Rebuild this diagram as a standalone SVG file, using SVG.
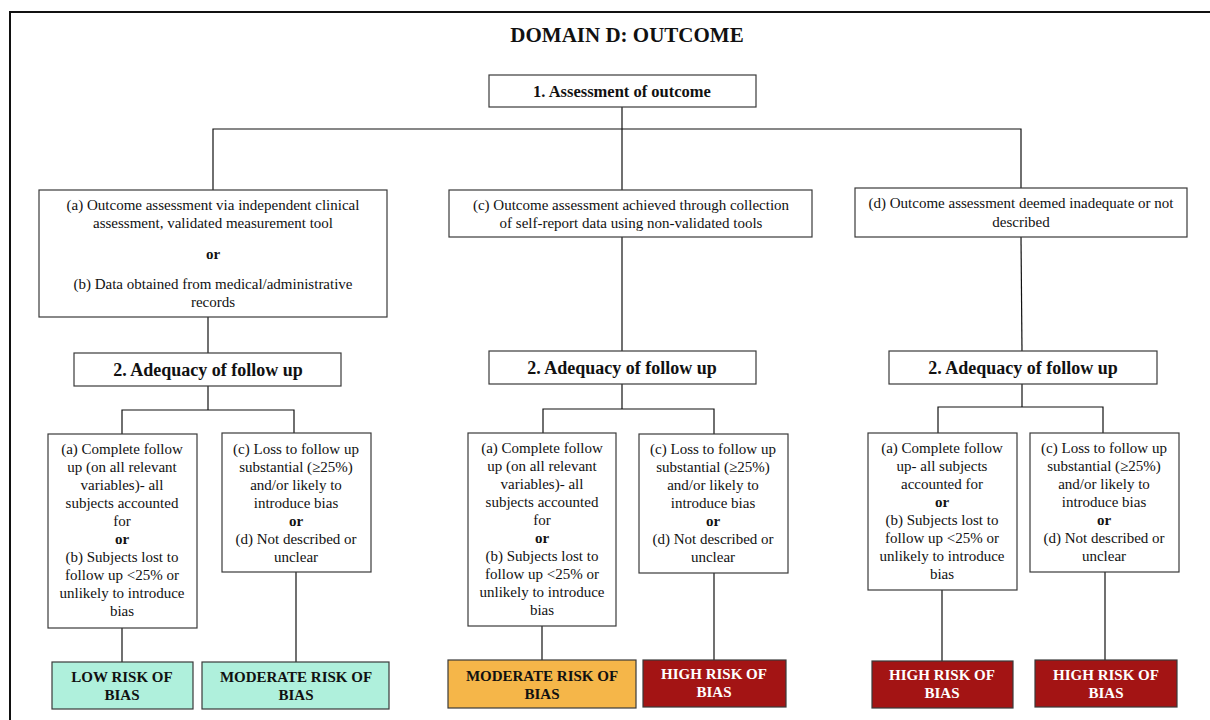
<svg xmlns="http://www.w3.org/2000/svg" width="1210" height="720" viewBox="0 0 1210 720">
<style>
.box{fill:#fff;stroke:#3a3a3a;stroke-width:1.2}
text{font-family:'Liberation Serif','DejaVu Serif',serif}
.t{font-size:15px;fill:#111;text-anchor:middle}
.b{font-weight:bold}
.h{font-size:18px;font-weight:bold;fill:#111;text-anchor:middle}
.r{font-size:15px;font-weight:bold;text-anchor:middle}
.low{fill:#aff0dc;stroke:#3a3a3a;stroke-width:1.2}
.mod{fill:#f5b649;stroke:#3a3a3a;stroke-width:1.2}
.high{fill:#a31414;stroke:#3a3a3a;stroke-width:1.2}
.c line, .c polyline{stroke:#111;stroke-width:1.2;fill:none}
</style>
<rect x="0" y="0" width="1210" height="720" fill="#fff"/>
<rect x="10" y="12" width="1220" height="730" fill="none" stroke="#111" stroke-width="2"/>
<text x="627" y="42" class="h" style="font-size:21px">DOMAIN D: OUTCOME</text>

<g class="c" id="connectors">
<line x1="622" y1="107" x2="622" y2="190"/>
<polyline points="213,190 213,129 1021,129 1021,188"/>
<line x1="208" y1="317" x2="208" y2="353"/>
<line x1="622" y1="237" x2="622" y2="351"/>
<line x1="1021" y1="237" x2="1022" y2="351"/>
<line x1="208" y1="386" x2="208" y2="410"/>
<polyline points="122,434 122,410 294,410 294,433"/>
<line x1="122" y1="628" x2="122" y2="662"/>
<line x1="296" y1="572" x2="296" y2="662"/>
<line x1="622" y1="384" x2="622" y2="409"/>
<polyline points="543,433 543,409 714,409 714,434"/>
<line x1="542" y1="626" x2="542" y2="660"/>
<line x1="714" y1="573" x2="714" y2="660"/>
<line x1="1022" y1="384" x2="1022" y2="407"/>
<polyline points="938,433 938,407 1103,407 1103,433"/>
<line x1="942" y1="590" x2="942" y2="661"/>
<line x1="1105" y1="572" x2="1105" y2="660"/>
</g>

<g id="n1"><rect class="box" x="489" y="75" width="267" height="32"/><text class="h" x="622" y="97" style="font-size:16.5px">1. Assessment of outcome</text></g>

<g id="na"><rect class="box" x="39" y="190" width="348" height="127"/>
<text class="t" x="213" y="210">(a) Outcome assessment via independent clinical</text>
<text class="t" x="213" y="228">assessment, validated measurement tool</text>
<text class="t b" x="213" y="259">or</text>
<text class="t" x="213" y="289">(b) Data obtained from medical/administrative</text>
<text class="t" x="213" y="307">records</text></g>

<g id="nc"><rect class="box" x="449" y="190" width="363" height="47"/>
<text class="t" x="631" y="210">(c) Outcome assessment achieved through collection</text>
<text class="t" x="631" y="228">of self-report data using non-validated tools</text></g>

<g id="nd"><rect class="box" x="855" y="188" width="332" height="49"/>
<text class="t" x="1021" y="208">(d) Outcome assessment deemed inadequate or not</text>
<text class="t" x="1021" y="227">described</text></g>

<g id="f1"><rect class="box" x="74" y="353" width="267" height="33"/><text class="h" x="208" y="376">2. Adequacy of follow up</text></g>
<g id="f2"><rect class="box" x="489" y="351" width="267" height="33"/><text class="h" x="622" y="374">2. Adequacy of follow up</text></g>
<g id="f3"><rect class="box" x="889" y="351" width="268" height="33"/><text class="h" x="1023" y="374">2. Adequacy of follow up</text></g>

<g id="la"><rect class="box" x="48" y="434" width="149" height="194"/>
<text class="t" x="122" y="454">(a) Complete follow</text>
<text class="t" x="122" y="472">up (on all relevant</text>
<text class="t" x="122" y="490">variables)- all</text>
<text class="t" x="122" y="508">subjects accounted</text>
<text class="t" x="122" y="526">for</text>
<text class="t b" x="122" y="544">or</text>
<text class="t" x="122" y="562">(b) Subjects lost to</text>
<text class="t" x="122" y="580">follow up &lt;25% or</text>
<text class="t" x="122" y="598">unlikely to introduce</text>
<text class="t" x="122" y="616">bias</text></g>

<g id="lc"><rect class="box" x="222" y="433" width="149" height="139"/>
<text class="t" x="296" y="454">(c) Loss to follow up</text>
<text class="t" x="296" y="472">substantial (≥25%)</text>
<text class="t" x="296" y="490">and/or likely to</text>
<text class="t" x="296" y="508">introduce bias</text>
<text class="t b" x="296" y="526">or</text>
<text class="t" x="296" y="544">(d) Not described or</text>
<text class="t" x="296" y="562">unclear</text></g>

<g id="ma"><rect class="box" x="468" y="433" width="148" height="193"/>
<text class="t" x="542" y="453">(a) Complete follow</text>
<text class="t" x="542" y="471">up (on all relevant</text>
<text class="t" x="542" y="489">variables)- all</text>
<text class="t" x="542" y="507">subjects accounted</text>
<text class="t" x="542" y="525">for</text>
<text class="t b" x="542" y="543">or</text>
<text class="t" x="542" y="561">(b) Subjects lost to</text>
<text class="t" x="542" y="579">follow up &lt;25% or</text>
<text class="t" x="542" y="597">unlikely to introduce</text>
<text class="t" x="542" y="615">bias</text></g>

<g id="mc"><rect class="box" x="639" y="434" width="149" height="139"/>
<text class="t" x="713" y="454">(c) Loss to follow up</text>
<text class="t" x="713" y="472">substantial (≥25%)</text>
<text class="t" x="713" y="490">and/or likely to</text>
<text class="t" x="713" y="508">introduce bias</text>
<text class="t b" x="713" y="526">or</text>
<text class="t" x="713" y="544">(d) Not described or</text>
<text class="t" x="713" y="562">unclear</text></g>

<g id="ra"><rect class="box" x="868" y="433" width="149" height="157"/>
<text class="t" x="942" y="453">(a) Complete follow</text>
<text class="t" x="942" y="471">up- all subjects</text>
<text class="t" x="942" y="489">accounted for</text>
<text class="t b" x="942" y="507">or</text>
<text class="t" x="942" y="525">(b) Subjects lost to</text>
<text class="t" x="942" y="543">follow up &lt;25% or</text>
<text class="t" x="942" y="561">unlikely to introduce</text>
<text class="t" x="942" y="579">bias</text></g>

<g id="rc"><rect class="box" x="1030" y="433" width="149" height="139"/>
<text class="t" x="1104" y="453">(c) Loss to follow up</text>
<text class="t" x="1104" y="471">substantial (≥25%)</text>
<text class="t" x="1104" y="489">and/or likely to</text>
<text class="t" x="1104" y="507">introduce bias</text>
<text class="t b" x="1104" y="525">or</text>
<text class="t" x="1104" y="543">(d) Not described or</text>
<text class="t" x="1104" y="561">unclear</text></g>

<g id="o1"><rect class="low" x="52" y="662" width="141" height="47"/>
<text class="r" x="122" y="682" fill="#111">LOW RISK OF</text><text class="r" x="122" y="700" fill="#111">BIAS</text></g>
<g id="o2"><rect class="low" x="202" y="662" width="187" height="47"/>
<text class="r" x="296" y="682" fill="#111">MODERATE RISK OF</text><text class="r" x="296" y="700" fill="#111">BIAS</text></g>
<g id="o3"><rect class="mod" x="448" y="660" width="188" height="48"/>
<text class="r" x="542" y="681" fill="#111">MODERATE RISK OF</text><text class="r" x="542" y="699" fill="#111">BIAS</text></g>
<g id="o4"><rect class="high" x="643" y="660" width="143" height="47"/>
<text class="r" x="714" y="679" fill="#fff">HIGH RISK OF</text><text class="r" x="714" y="697" fill="#fff">BIAS</text></g>
<g id="o5"><rect class="high" x="872" y="661" width="141" height="47"/>
<text class="r" x="942" y="680" fill="#fff">HIGH RISK OF</text><text class="r" x="942" y="698" fill="#fff">BIAS</text></g>
<g id="o6"><rect class="high" x="1035" y="660" width="142" height="47"/>
<text class="r" x="1106" y="680" fill="#fff">HIGH RISK OF</text><text class="r" x="1106" y="698" fill="#fff">BIAS</text></g>
</svg>
